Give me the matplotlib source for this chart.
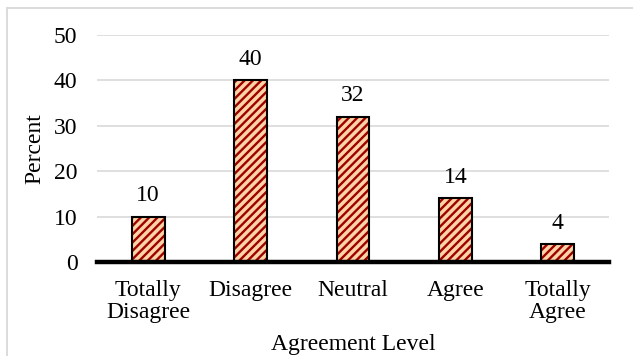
import matplotlib
matplotlib.use("Agg")
import matplotlib.pyplot as plt
from matplotlib.lines import Line2D

categories = ["Totally\nDisagree", "Disagree", "Neutral", "Agree", "Totally\nAgree"]
percent = [10, 40, 32, 14, 4]
y_ticks = [0, 10, 20, 30, 40, 50]

plt.rcParams["font.family"] = ["Liberation Serif", "DejaVu Serif"]
plt.rcParams["hatch.linewidth"] = 1.7

W, H = 633, 356
fs = 17
fig = plt.figure(figsize=(W / 100, H / 100), dpi=100)
ax = fig.add_axes([97 / W, 1 - 262 / H, (609 - 97) / W, (262 - 35) / H])

x = range(len(categories))
bar_w = 0.32
# striped fill, then a black outline on top
ax.bar(x, percent, width=bar_w, color="#fbd3a4", edgecolor="#9e0000",
       hatch="////", linewidth=0, zorder=3)
ax.bar(x, percent, width=bar_w, fill=False, edgecolor="black",
       linewidth=1.5, zorder=4)

for xi, v in zip(x, percent):
    ax.annotate(str(v), (xi, v), xytext=(0, 11), textcoords="offset points",
                ha="center", va="baseline", fontsize=fs, color="black")

ax.set_xlim(-0.5, len(categories) - 0.5)
ax.set_ylim(0, 50)
ax.set_yticks(y_ticks)
ax.yaxis.grid(True, color="#d9d9d9", linewidth=1.2, zorder=0)
ax.set_axisbelow(True)
ax.set_xticks(list(x))
ax.set_xticklabels(categories, fontsize=fs, linespacing=1.05)
ax.tick_params(axis="both", length=0, labelsize=fs)
ax.tick_params(axis="y", pad=14)
ax.tick_params(axis="x", pad=13)

for s in ["top", "right", "left"]:
    ax.spines[s].set_visible(False)
ax.spines["bottom"].set_linewidth(3.2)
ax.spines["bottom"].set_color("black")
ax.spines["bottom"].set_zorder(5)

ax.set_ylabel("Percent", fontsize=fs, labelpad=6)
ax.set_xlabel("Agreement Level", fontsize=fs, labelpad=8)

# light frame around the chart area
fig.add_artist(Line2D([6.5 / W, 1.0], [1 - 7.5 / H] * 2, transform=fig.transFigure,
                      color="#d9d9d9", linewidth=1.3))
fig.add_artist(Line2D([6.5 / W] * 2, [0.0, 1 - 7.5 / H], transform=fig.transFigure,
                      color="#d9d9d9", linewidth=1.3))

fig.savefig("out.png", dpi=100, facecolor="white")
